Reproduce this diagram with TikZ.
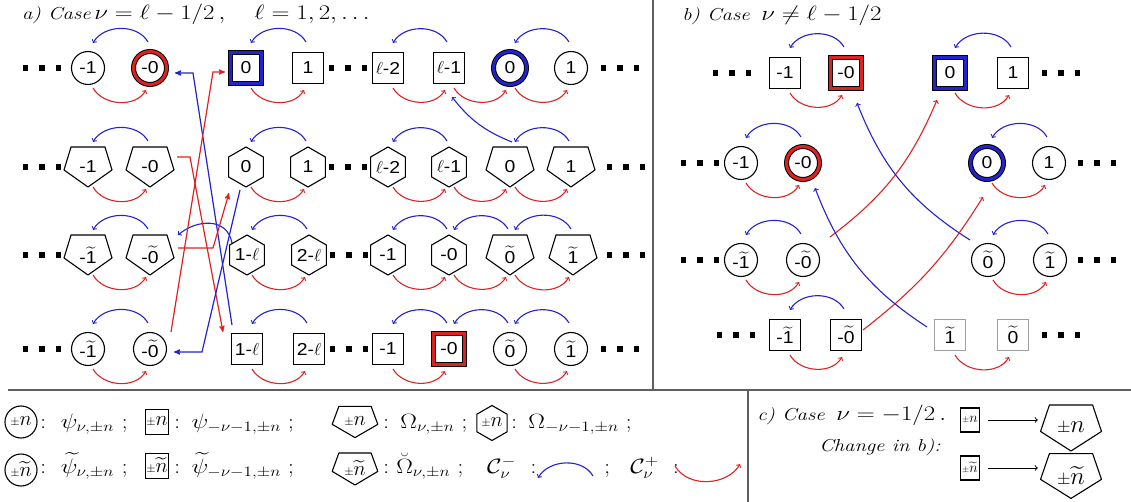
\documentclass[tikz,border=0pt]{standalone}
\usepackage{amsmath}
\usepackage{fontspec}
\newfontfamily\nodefont[FakeStretch=1.12]{Liberation Sans}
\usetikzlibrary{arrows,calc,shapes.geometric}

\definecolor{cred}{RGB}{222,34,34}
\definecolor{cblue}{RGB}{34,34,206}
\definecolor{rulegray}{RGB}{95,95,95}

\newcommand\tld[1]{$\widetilde{\mbox{#1}}$}
\newcommand\ddd{\rule{5.5pt}{5.5pt}\hspace{11pt}\rule{5.5pt}{5.5pt}\hspace{11pt}\rule{5.5pt}{5.5pt}}
\newcommand\pmn{{\large$\pm$}{\huge$n$}}
\newcommand\pmnt{{\large$\pm$}{\huge$\widetilde{n}$}}
% C^- arc above the pair, C^+ arc below
\newcommand\arcm[2]{\draw[cmline] ($(#1)+(-2,-26)$) to[out=120,in=60] ($(#2)+(5,-25)$);}
\newcommand\arcp[2]{\draw[cpline] ($(#1)+(5,20)$) to[out=-60,in=-120] ($(#2)+(-4,22)$);}

\tikzset{
  >=to,
  vertex/.style={draw, line width=1.1pt, inner sep=0pt, font=\LARGE\nodefont},
  circ/.style={vertex, circle, minimum size=33pt},
  squa/.style={vertex, rectangle, minimum size=31pt},
  hexa/.style={vertex, regular polygon, regular polygon sides=6,
    shape border rotate=30, minimum size=40pt},
  penta/.style={inner sep=0pt, minimum width=48pt, minimum height=40pt,
    font=\LARGE\nodefont},
  outline/.style={line width=1.1pt, line join=round},
  hl/.style={preaction={draw=black, line width=5pt}, draw=#1, line width=3pt},
  ghost/.style={draw=gray!75},
  dots/.style={inner sep=0pt},
  wide/.style={xscale=1.2, transform shape},
  cmline/.style={->, cblue, line width=1.1pt},
  cpline/.style={->, cred, line width=1.1pt},
  jump/.style={-stealth', line width=1.2pt},
  sep/.style={rulegray, line width=1.2pt},
}

\begin{document}
\begin{tikzpicture}[x=1pt, y=-1pt]
\useasboundingbox (0,0) rectangle (1131,502);

% frame lines
\draw[sep] (653,0) -- (653,390);
\draw[sep] (8,390) -- (1131,390);
\draw[sep] (748,390) -- (748,502);

\node[anchor=west, wide] (tita) at (18,14) {\LARGE\textit{a) Case}\,\huge$\nu=\ell-1/2\,,\quad \ell=1,2,\ldots$};
\node[anchor=west, wide] (titb) at (678,15) {\LARGE\textit{b) Case}\;\;\huge$\nu\neq\ell-1/2$};

% a) row 1
\node[dots] (a1d0) at (42,68) {\ddd};
\node[circ] (a1m1) at (88,68) {-1};
\node[circ, hl=cred] (a1m0) at (150,68) {-0};
\node[squa, hl=cblue] (a1p0) at (246,68) {0};
\node[squa] (a1p1) at (308,68) {1};
\node[dots] (a1d1) at (348,68) {\ddd};
\node[squa] (a1l2) at (388,68) {$\ell$-2};
\node[squa] (a1l1) at (449,68) {$\ell$-1};
\node[circ, hl=cblue] (a1c0) at (510,68) {0};
\node[circ] (a1c1) at (571,68) {1};
\node[dots] (a1d2) at (620,68) {\ddd};

% a) row 2
\node[dots] (a2d0) at (42,167) {\ddd};
\node[penta] (a2m1) at (88,167) {-1};
\node[penta] (a2m0) at (150,167) {-0};
\node[hexa] (a2p0) at (246,167) {0};
\node[hexa] (a2p1) at (308,167) {1};
\node[dots] (a2d1) at (348,167) {\ddd};
\node[hexa] (a2l2) at (388,167) {$\ell$-2};
\node[hexa] (a2l1) at (449,167) {$\ell$-1};
\node[penta] (a2c0) at (510,167) {0};
\node[penta] (a2c1) at (571,167) {1};
\node[dots] (a2d2) at (626,167) {\ddd};

% a) row 3
\node[dots] (a3d0) at (42,255) {\ddd};
\node[penta] (a3m1) at (88,255) {-\tld{1}};
\node[penta] (a3m0) at (150,255) {-\tld{0}};
\node[hexa] (a3p0) at (247,255) {1-$\ell$};
\node[hexa] (a3p1) at (309,255) {2-$\ell$};
\node[dots] (a3d1) at (349,255) {\ddd};
\node[hexa] (a3l2) at (388,255) {-1};
\node[hexa] (a3l1) at (449,255) {-0};
\node[penta] (a3c0) at (510,255) {\tld{0}};
\node[penta] (a3c1) at (573,255) {\tld{1}};
\node[dots] (a3d2) at (626,255) {\ddd};

% a) row 4
\node[dots] (a4d0) at (42,349) {\ddd};
\node[circ] (a4m1) at (88,349) {-\tld{1}};
\node[circ] (a4m0) at (150,349) {-\tld{0}};
\node[squa] (a4p0) at (247,349) {1-$\ell$};
\node[squa] (a4p1) at (309,349) {2-$\ell$};
\node[dots] (a4d1) at (349,349) {\ddd};
\node[squa] (a4l2) at (388,349) {-1};
\node[squa, hl=cred] (a4l1) at (449,349) {-0};
\node[circ] (a4c0) at (510,349) {\tld{0}};
\node[circ] (a4c1) at (571,349) {\tld{1}};
\node[dots] (a4d2) at (620,349) {\ddd};

% b) rows
\node[dots] (b1d0) at (732,73) {\ddd};
\node[squa] (b1m1) at (785,73) {-1};
\node[squa, hl=cred] (b1m0) at (846,73) {-0};
\node[squa, hl=cblue] (b1p0) at (950,73) {0};
\node[squa] (b1p1) at (1013,73) {1};
\node[dots] (b1d1) at (1061,73) {\ddd};

\node[dots] (b2d0) at (700,163) {\ddd};
\node[circ] (b2m1) at (741,163) {-1};
\node[circ, hl=cred] (b2m0) at (803,163) {-0};
\node[circ, hl=cblue] (b2p0) at (987,163) {0};
\node[circ] (b2p1) at (1049,163) {1};
\node[dots] (b2d1) at (1097,163) {\ddd};

\node[dots] (b3d0) at (700,260) {\ddd};
\node[circ] (b3m1) at (741,260) {-\tld{1}};
\node[circ] (b3m0) at (803,260) {-\tld{0}};
\node[circ] (b3p0) at (988,260) {\tld{0}};
\node[circ] (b3p1) at (1050,260) {\tld{1}};
\node[dots] (b3d1) at (1097,260) {\ddd};

\node[dots] (b4d0) at (736,335) {\ddd};
\node[squa] (b4m1) at (785,335) {-\tld{1}};
\node[squa] (b4m0) at (846,335) {-\tld{0}};
\node[squa, ghost] (b4p0) at (950,335) {\tld{1}};
\node[squa, ghost] (b4p1) at (1013,335) {\tld{0}};
\node[dots] (b4d1) at (1061,335) {\ddd};

% legend
\node[circ, minimum size=32pt, font=\normalfont] (lc1) at (21,422) {\pmn};
\node[anchor=base west, wide] (lt1) at (36,428) {\huge$:\ \psi_{\nu,\pm n}\ ;$};
\node[squa, minimum size=0pt, minimum width=23pt, minimum height=25pt, inner sep=1pt, font=\normalfont] (ls1) at (157,422) {\pmn};
\node[anchor=base west, wide] (lt2) at (170,428) {\huge$:\,\psi_{-\nu-1,\pm n}\;;$};
\node[penta, minimum width=44pt, minimum height=31pt, font=\normalfont] (lp1) at (355,422) {\pmn};
\node[anchor=base west, wide] (lt3) at (379,428) {\huge$:\,\Omega_{\nu,\pm n}\;;$};
\node[hexa, minimum size=35pt, font=\normalfont] (lh1) at (492,423) {\pmn};
\node[anchor=base west, wide] (lt4) at (507,428) {\huge$:\,\Omega_{-\nu-1,\pm n}\;;$};

\node[circ, minimum size=32pt, font=\normalfont] (lc2) at (21,470) {\pmnt};
\node[anchor=base west, wide] (lt5) at (36,473) {\huge$:\ \widetilde{\psi}_{\nu,\pm n}\ ;$};
\node[squa, minimum size=0pt, minimum width=23pt, minimum height=25pt, inner sep=1pt, font=\normalfont] (ls2) at (157,466) {\pmnt};
\node[anchor=base west, wide] (lt6) at (170,473) {\huge$:\,\widetilde{\psi}_{-\nu-1,\pm n}\;;$};
\node[penta, minimum width=44pt, minimum height=31pt, font=\normalfont] (lp2) at (355,469) {\pmnt};
\node[anchor=base west, wide] (lt7) at (379,473) {\huge$:\breve{\Omega}_{\nu,\pm n}\;;$};
\node[anchor=base west, wide] (lt8) at (483,473) {\huge$\mathcal{C}^-_\nu\ :$};
\coordinate (lgb1) at (593,476);
\coordinate (lgb2) at (538,478);
\draw[cmline] (lgb1) to[out=120,in=60] (lgb2);
\node[anchor=base west, wide] (lt9) at (600,473) {\huge$;$};
\node[anchor=base west, wide] (lt10) at (626,473) {\huge$\mathcal{C}^+_\nu\ :$};
\coordinate (lgr1) at (675,466);
\coordinate (lgr2) at (740,464);
\draw[cpline] (lgr1) to[out=-60,in=-120] (lgr2);

% c)
\node[anchor=base west, wide] (tc1) at (753,420) {\LARGE\textit{c) Case}\;\;\huge$\nu=-1/2\,.$};
\node[anchor=base west, wide] (tc2) at (815,451) {\LARGE\textit{Change in b):}};
\node[squa, minimum size=0pt, minimum width=19pt, minimum height=24pt, inner sep=1pt, font=\normalfont] (cs1) at (970,420) {{\small$\pm$}{\Large$n$}};
\node[penta, minimum width=62pt, minimum height=46pt, font=\normalfont] (cp1) at (1071,428) {{\LARGE$\pm$}{\Huge$n$}};
\node[squa, minimum size=0pt, minimum width=19pt, minimum height=24pt, inner sep=1pt, font=\normalfont] (cs2) at (970,468) {{\small$\pm$}{\Large$\widetilde{n}$}};
\node[penta, minimum width=62pt, minimum height=46pt, font=\normalfont] (cp2) at (1071,476) {{\LARGE$\pm$}{\Huge$\widetilde{n}$}};
\draw[->, line width=1pt, shorten <=8pt, shorten >=2pt] (cs1) -- (cp1.west |- cs1);
\draw[->, line width=1pt, shorten <=8pt, shorten >=2pt] (cs2) -- (cp2.west |- cs2);

% pentagon outlines
\foreach \p/\sx/\sy in {a2m1/1/1, a2m0/1/1, a2c0/1/1, a2c1/1/1,
    a3m1/1/1, a3m0/1/1, a3c0/1/1, a3c1/1/1,
    lp1/0.95/0.78, lp2/0.95/0.8, cp1/1.27/1.15, cp2/1.27/1.12}
  \draw[outline, shift={(\p)}, xscale=\sx, yscale=\sy]
    (-17,-20) -- (17,-20) -- (24,3) -- (0,20) -- (-24,3) -- cycle;

% a) arcs
\arcm{a1m0}{a1m1} \arcm{a1p1}{a1p0} \arcm{a1l1}{a1l2} \arcm{a1c1}{a1c0}
\arcp{a1m1}{a1m0} \arcp{a1p0}{a1p1} \arcp{a1l2}{a1l1} \arcp{a1l1}{a1c0} \arcp{a1c0}{a1c1}
\arcm{a2m0}{a2m1} \arcm{a2p1}{a2p0} \arcm{a2l1}{a2l2} \arcm{a2c1}{a2c0}
\arcp{a2m1}{a2m0} \arcp{a2p0}{a2p1} \arcp{a2l2}{a2l1} \arcp{a2l1}{a2c0} \arcp{a2c0}{a2c1}
\arcm{a3m0}{a3m1} \arcm{a3p1}{a3p0} \arcm{a3l1}{a3l2} \arcm{a3c0}{a3l1} \arcm{a3c1}{a3c0}
\arcp{a3m1}{a3m0} \arcp{a3p0}{a3p1} \arcp{a3l2}{a3l1} \arcp{a3l1}{a3c0} \arcp{a3c0}{a3c1}
\arcm{a4m0}{a4m1} \arcm{a4p1}{a4p0} \arcm{a4l1}{a4l2} \arcm{a4c0}{a4l1} \arcm{a4c1}{a4c0}
\arcp{a4m1}{a4m0} \arcp{a4p0}{a4p1} \arcp{a4l2}{a4l1} \arcp{a4c0}{a4c1}
\draw[cmline, looseness=1.2] ($(a3p0)+(-15,-12)$) to[out=100,in=40] ($(a3m0)+(28,-20)$);
\draw[cmline] ($(a2c0)+(2,-25)$) to[bend left=15] ($(a1l1)+(3,29)$);

% a) crossing jumps
\draw[jump, cblue] ($(a4p0)+(-15,-24)$) -- ($(a1m0)+(43,5)$) -- ($(a1m0)+(25,5)$);
\draw[jump, cred] ($(a4m0)+(21,-17)$) -- ($(a1p0)+(-33,4)$) -- ($(a1p0)+(-21,4)$);
\draw[jump, cred] ($(a2m0)+(27,-10)$) -- ($(a2m0)+(40,-10)$) -- ($(a4p0)+(-24,-17)$);
\draw[jump, cred] ($(a3m0)+(28,-7)$) -- ($(a3m0)+(63,-7)$) -- ($(a2p0)+(-17,26)$);
\draw[jump, cblue] ($(a2p0)+(-6,23)$) -- ($(a4m0)+(52,3)$) -- ($(a4m0)+(24,3)$);

% b) arcs
\arcm{b1m0}{b1m1} \arcm{b1p1}{b1p0}
\arcp{b1m1}{b1m0} \arcp{b1p0}{b1p1}
\arcm{b2m0}{b2m1} \arcm{b2p1}{b2p0}
\arcp{b2m1}{b2m0} \arcp{b2p0}{b2p1}
\arcm{b3m0}{b3m1} \arcm{b3p1}{b3p0}
\arcp{b3m1}{b3m0} \arcp{b3p0}{b3p1}
\arcm{b4m0}{b4m1}
\arcp{b4m1}{b4m0} \arcp{b4p0}{b4p1}
\draw[cpline] ($(b3m0)+(27,-23)$) to[bend right=15] ($(b1p0)+(-13,27)$);
\draw[cmline] ($(b3p0)+(-18,-20)$) to[bend left=18] ($(b1m0)+(11,30)$);
\draw[cpline] ($(b4m0)+(17,-5)$) to[bend right=10] ($(b2p0)+(-4,34)$);
\draw[cmline] ($(b4p0)+(-23,-8)$) to[bend left=18] ($(b2m0)+(12,25)$);
\end{tikzpicture}
\end{document}
